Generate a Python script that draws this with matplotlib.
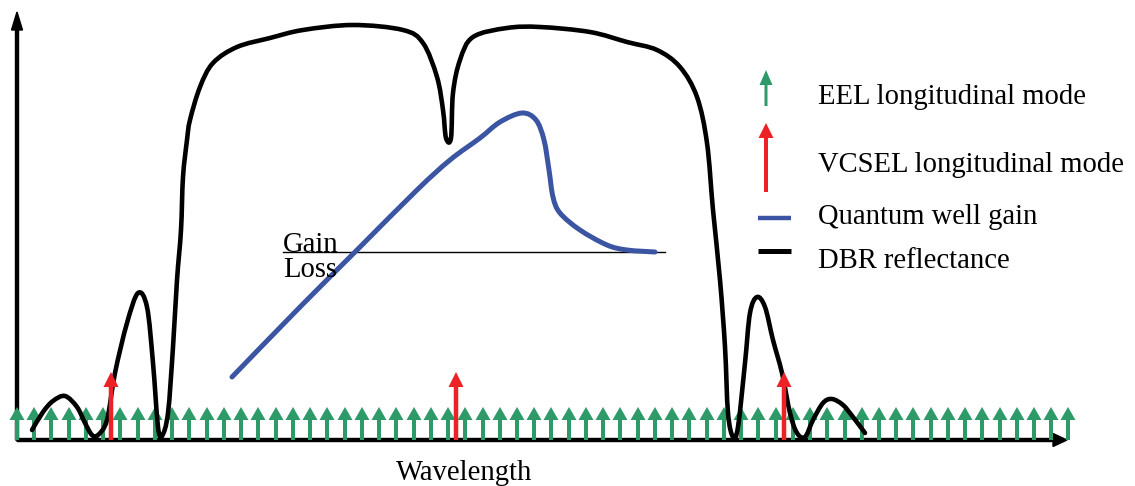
import matplotlib
matplotlib.use("Agg")
import matplotlib.pyplot as plt
import numpy as np
from matplotlib.patches import Rectangle, PathPatch
from matplotlib.path import Path

# wavelength / intensity in arbitrary units (origin at the axes corner)
eel_modes = [0, 17, 34, 52, 69, 86, 103, 121, 138, 155, 172, 190, 207, 224, 241,
             259, 276, 293, 310, 328, 345, 362, 379, 397, 414, 431, 448, 466, 483,
             500, 517, 534, 552, 569, 586, 603, 621, 638, 655, 672, 690, 707, 724,
             741, 759, 776, 793, 810, 828, 845, 862, 879, 896, 914, 931, 948, 965,
             983, 1000, 1017, 1034, 1051]
vcsel_modes = [94, 439, 767]

dbr_x = [15, 26, 36, 48, 60, 68, 75, 81, 90, 98, 110, 121, 130, 136, 141, 145,
         151, 156, 160, 164, 166, 170, 173, 183, 196, 220, 253, 286, 336, 386,
         406, 420, 426, 429, 434, 436, 443, 456, 490, 523, 573, 610, 640, 663,
         680, 690, 696, 703, 708, 711, 716, 721, 728, 733, 740, 748, 756, 765,
         773, 780, 788, 796, 806, 815, 826, 836, 848]
dbr_r = [10, 28, 39, 44, 33, 17, 5, 5, 20, 67, 117, 147, 133, 77, 13, 4,
         27, 93, 160, 210, 263, 300, 320, 353, 377, 393, 402, 410, 415, 410,
         397, 363, 330, 302, 302, 347, 380, 403, 412, 413, 408, 398, 390, 373,
         343, 297, 230, 160, 93, 27, 3, 13, 77, 127, 143, 133, 100, 67,
         27, 7, 3, 20, 37, 41, 35, 23, 7]

gain_x = [215, 283, 340, 400, 433, 463, 483, 505, 519, 527, 532, 536, 543,
          563, 590, 610, 638]
gain_g = [63, 133, 190, 250, 280, 302, 318, 327, 320, 300, 270, 243, 227,
          210, 195, 190, 188]

loss_level = 188
loss_span = [266, 648]

legend_labels = ["EEL longitudinal mode", "VCSEL longitudinal mode",
                 "Quantum well gain", "DBR reflectance"]

GREEN = "#2e9a68"
RED = "#ec2227"
BLUE = "#3b55a3"
FONT = ["Liberation Serif", "DejaVu Serif"]
FS = 20.6


def smooth_path(xs, ys):
    # Catmull-Rom through the points, drawn as cubic Bezier segments
    p = np.column_stack([xs, ys]).astype(float)
    q = np.vstack([p[0], p, p[-1]])
    verts = [p[0]]
    codes = [Path.MOVETO]
    for i in range(1, len(q) - 2):
        c1 = q[i] + (q[i + 1] - q[i - 1]) / 6
        c2 = q[i + 1] - (q[i + 2] - q[i]) / 6
        verts += [c1, c2, q[i + 1]]
        codes += [Path.CURVE4] * 3
    return Path(verts, codes)


fig = plt.figure(figsize=(11.35, 4.86), dpi=100)
ax = fig.add_axes([0, 0, 1, 1])
ax.set_xlim(-17, 1118)
ax.set_ylim(-46, 440)
ax.axis("off")

# axes with arrow heads
ax.arrow(0, 0, 0, 428, width=3, head_width=11, head_length=18,
         length_includes_head=True, color="black", zorder=2)
ax.arrow(0, 0, 1050, 0, width=3, head_width=13, head_length=14,
         length_includes_head=True, color="black", zorder=2)

for m in eel_modes:
    ax.arrow(m, 0, 0, 33, width=4, head_width=15, head_length=13,
             length_includes_head=True, color=GREEN, lw=0, zorder=3)

ax.add_patch(PathPatch(smooth_path(dbr_x, dbr_r), fill=False, ec="black", lw=3.3,
                       joinstyle="round", capstyle="round", zorder=4))

for m in vcsel_modes:
    ax.arrow(m, 0, 0, 68, width=4.5, head_width=15, head_length=15,
             length_includes_head=True, color=RED, lw=0, zorder=5)

ax.plot(loss_span, [loss_level, loss_level], color="black", lw=1.0, zorder=4)
ax.add_patch(PathPatch(smooth_path(gain_x, gain_g), fill=False, ec=BLUE, lw=3.6,
                       joinstyle="round", capstyle="round", zorder=5))

ax.text(266, loss_level, "Gain", fontsize=FS, family=FONT, va="baseline", zorder=6)
ax.text(266, 163, "Loss", fontsize=FS, family=FONT, va="baseline", zorder=6)
ax.text(447, -40, "Wavelength", fontsize=FS, family=FONT, ha="center", va="baseline")

# legend drawn by hand
ax.arrow(749, 334, 0, 36, width=3, head_width=13, head_length=15,
         length_includes_head=True, color=GREEN, lw=0)
ax.arrow(749, 248, 0, 69, width=4, head_width=15, head_length=15,
         length_includes_head=True, color=RED, lw=0)
ax.plot([741, 774], [222, 222], color=BLUE, lw=3.2, solid_capstyle="butt")
ax.plot([741, 774], [189, 189], color="black", lw=3.6, solid_capstyle="butt")

baselines = [336, 268, 216, 172]
clips = [335, 266, 215, None]
for lab, yb, yc in zip(legend_labels, baselines, clips):
    t = ax.text(801, yb, lab, fontsize=FS, family=FONT, va="baseline")
    if yc is not None:
        box = Rectangle((790, yc), 330, 60, transform=ax.transData)
        t.set_clip_path(box)

fig.savefig("out.png", dpi=100)
